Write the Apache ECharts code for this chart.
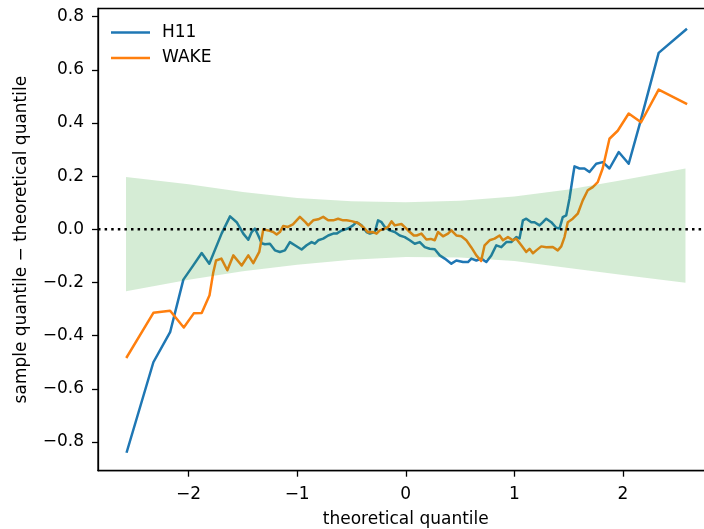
<!DOCTYPE html>
<html>
<head>
<meta charset="utf-8">
<script src="https://cdn.jsdelivr.net/npm/echarts@6/dist/echarts.min.js"></script>
<style>
  html, body { margin: 0; padding: 0; background: #ffffff; }
  #chart { width: 704px; height: 529px; }
</style>
</head>
<body>
<div id="chart"></div>
<script>
// Detrended Q-Q (worm) plot: sample quantile minus theoretical quantile.

// Axis limits and tick positions
const X_MIN = -2.834, X_MAX = 2.834;
const Y_MIN = -0.908, Y_MAX = 0.831;
const xTicks = [-2, -1, 0, 1, 2];
const yTicks = [-0.8, -0.6, -0.4, -0.2, 0.0, 0.2, 0.4, 0.6, 0.8];

// H11: theoretical quantile / deviation
const h11X = [-2.568, -2.324, -2.170, -2.048, -1.971, -1.879, -1.809, -1.695, -1.618, -1.557,
  -1.496, -1.450, -1.419, -1.389, -1.358, -1.327, -1.297, -1.251, -1.205, -1.159,
  -1.113, -1.067, -1.021, -0.959, -0.913, -0.867, -0.837, -0.806, -0.760, -0.714,
  -0.668, -0.637, -0.591, -0.531, -0.485, -0.453, -0.407, -0.361, -0.331, -0.285,
  -0.255, -0.223, -0.193, -0.147, -0.101, -0.055, -0.009, 0.037, 0.083, 0.129,
  0.175, 0.221, 0.267, 0.313, 0.359, 0.420, 0.466, 0.527, 0.573, 0.604,
  0.650, 0.696, 0.742, 0.788, 0.834, 0.880, 0.926, 0.972, 1.018, 1.048,
  1.079, 1.110, 1.156, 1.186, 1.232, 1.263, 1.294, 1.340, 1.386, 1.416,
  1.446, 1.478, 1.508, 1.538, 1.554, 1.600, 1.646, 1.692, 1.754, 1.814,
  1.876, 1.961, 2.053, 2.152, 2.329, 2.581];
const h11Y = [-0.836, -0.500, -0.387, -0.189, -0.144, -0.089, -0.129, -0.015, 0.049, 0.027,
  -0.016, -0.039, -0.010, 0.003, -0.023, -0.052, -0.056, -0.054, -0.079, -0.085,
  -0.079, -0.048, -0.060, -0.076, -0.060, -0.048, -0.054, -0.041, -0.035, -0.023,
  -0.016, -0.016, -0.004, 0.003, 0.015, 0.027, 0.015, -0.010, -0.016, -0.010,
  0.034, 0.027, 0.009, -0.004, -0.010, -0.023, -0.029, -0.041, -0.054, -0.048,
  -0.067, -0.073, -0.075, -0.098, -0.110, -0.129, -0.117, -0.123, -0.123, -0.110,
  -0.117, -0.110, -0.123, -0.098, -0.060, -0.067, -0.048, -0.048, -0.029, -0.034,
  0.034, 0.040, 0.027, 0.027, 0.015, 0.027, 0.040, 0.027, 0.006, 0.003,
  0.046, 0.053, 0.116, 0.197, 0.237, 0.229, 0.229, 0.216, 0.247, 0.253,
  0.229, 0.291, 0.247, 0.392, 0.664, 0.752];

// WAKE: theoretical quantile / deviation
const wakeX = [-2.568, -2.324, -2.170, -2.044, -1.952, -1.879, -1.807, -1.772, -1.747, -1.698,
  -1.643, -1.588, -1.511, -1.450, -1.404, -1.349, -1.312, -1.266, -1.220, -1.189,
  -1.159, -1.128, -1.085, -1.039, -0.975, -0.924, -0.898, -0.852, -0.806, -0.760,
  -0.714, -0.668, -0.623, -0.577, -0.545, -0.499, -0.439, -0.393, -0.347, -0.301,
  -0.269, -0.239, -0.193, -0.163, -0.131, -0.101, -0.040, 0.006, 0.037, 0.074,
  0.101, 0.144, 0.190, 0.230, 0.267, 0.297, 0.343, 0.389, 0.420, 0.466,
  0.512, 0.558, 0.604, 0.650, 0.694, 0.726, 0.772, 0.818, 0.864, 0.895,
  0.941, 0.987, 1.018, 1.064, 1.110, 1.140, 1.171, 1.202, 1.248, 1.294,
  1.354, 1.400, 1.432, 1.462, 1.492, 1.538, 1.584, 1.630, 1.676, 1.722,
  1.768, 1.814, 1.876, 1.952, 2.053, 2.167, 2.329, 2.581];
const wakeY = [-0.480, -0.314, -0.306, -0.369, -0.316, -0.315, -0.248, -0.161, -0.117, -0.110,
  -0.154, -0.098, -0.136, -0.098, -0.127, -0.085, 0.000, -0.004, -0.010, -0.019,
  -0.010, 0.013, 0.009, 0.019, 0.047, 0.027, 0.015, 0.034, 0.038, 0.047,
  0.034, 0.034, 0.040, 0.034, 0.034, 0.031, 0.024, 0.009, -0.011, -0.010,
  -0.016, -0.004, 0.003, 0.009, 0.030, 0.015, 0.020, 0.003, -0.010, -0.023,
  -0.023, -0.016, -0.038, -0.036, -0.041, -0.010, -0.026, -0.016, -0.004, -0.023,
  -0.026, -0.041, -0.068, -0.098, -0.119, -0.060, -0.041, -0.035, -0.023, -0.041,
  -0.029, -0.041, -0.035, -0.060, -0.085, -0.073, -0.090, -0.079, -0.064, -0.067,
  -0.066, -0.079, -0.064, -0.029, 0.027, 0.040, 0.059, 0.109, 0.147, 0.159,
  0.178, 0.230, 0.341, 0.371, 0.436, 0.403, 0.526, 0.473];

// Confidence band around zero
const bandX = [-2.576, -2.0, -1.5, -1.0, -0.5, 0.0, 0.5, 1.0, 1.5, 2.0, 2.576];
const bandUpper = [0.197, 0.170, 0.141, 0.118, 0.106, 0.102, 0.108, 0.124, 0.150, 0.186, 0.229];
const bandLower = [-0.233, -0.190, -0.158, -0.133, -0.114, -0.104, -0.106, -0.119, -0.145, -0.172, -0.201];

const zip = (xs, ys) => xs.map((x, i) => [x, ys[i]]);
const fmtMinus = s => s.replace('-', '\u2212');

const FONT = 'DejaVu Sans';
const FS = 17;
const LW = 2.5;

const chart = echarts.init(document.getElementById('chart'), null, { renderer: 'canvas' });

chart.setOption({
  animation: false,
  backgroundColor: '#ffffff',
  textStyle: { fontFamily: FONT },
  grid: {
    left: 98, top: 8.5, width: 615.5, height: 462.2,
    containLabel: false, outerBoundsMode: 'none',
    show: true, borderColor: '#000000', borderWidth: 1.3, backgroundColor: 'transparent'
  },
  legend: {
    orient: 'vertical', left: 111, top: 24, padding: 0,
    icon: 'rect', itemWidth: 39, itemHeight: 2.6, itemGap: 8.5,
    data: ['H11', 'WAKE'],
    textStyle: { fontFamily: FONT, fontSize: FS, lineHeight: 16, color: '#000000', padding: [0, 0, 0, 7] }
  },
  xAxis: {
    type: 'value', min: X_MIN, max: X_MAX,
    name: 'theoretical quantile', nameLocation: 'middle', nameGap: 40,
    nameTextStyle: { fontFamily: FONT, fontSize: FS, color: '#000000' },
    axisLine: { onZero: false, lineStyle: { color: '#000000', width: 1.3 } },
    axisTick: { customValues: xTicks, length: 6, lineStyle: { color: '#000000', width: 1.3 } },
    axisLabel: {
      customValues: xTicks, margin: 15, fontFamily: FONT, fontSize: FS, color: '#000000',
      formatter: v => fmtMinus(String(Math.round(v)))
    },
    splitLine: { show: false }
  },
  yAxis: {
    type: 'value', min: Y_MIN, max: Y_MAX,
    name: 'sample quantile \u2212 theoretical quantile', nameLocation: 'middle', nameGap: 68,
    nameTextStyle: { fontFamily: FONT, fontSize: FS, color: '#000000' },
    axisLine: { onZero: false, lineStyle: { color: '#000000', width: 1.3 } },
    axisTick: { customValues: yTicks, length: 6, lineStyle: { color: '#000000', width: 1.3 } },
    axisLabel: {
      customValues: yTicks, margin: 14, fontFamily: FONT, fontSize: FS, color: '#000000',
      formatter: v => fmtMinus(v.toFixed(1))
    },
    splitLine: { show: false }
  },
  series: [
    {
      name: 'H11', type: 'line', z: 2, symbol: 'none',
      data: zip(h11X, h11Y),
      lineStyle: { color: '#1f77b4', width: LW, join: 'round', cap: 'square' },
      itemStyle: { color: '#1f77b4' }
    },
    {
      name: 'WAKE', type: 'line', z: 2, symbol: 'none',
      data: zip(wakeX, wakeY),
      lineStyle: { color: '#ff7f0e', width: LW, join: 'round', cap: 'square' },
      itemStyle: { color: '#ff7f0e' }
    },
    {
      name: 'band', type: 'custom', z: 3, silent: true,
      data: [[0, 0]],
      renderItem: function (params, api) {
        const pts = [];
        for (let i = 0; i < bandX.length; i++) pts.push(api.coord([bandX[i], bandUpper[i]]));
        for (let i = bandX.length - 1; i >= 0; i--) pts.push(api.coord([bandX[i], bandLower[i]]));
        return { type: 'polygon', shape: { points: pts }, style: { fill: 'rgba(44,160,44,0.2)' } };
      }
    },
    {
      name: 'zero', type: 'line', z: 4, symbol: 'none', silent: true,
      data: [[X_MIN, 0], [X_MAX, 0]],
      lineStyle: { color: '#000000', width: LW, type: [2.5, 4.1], cap: 'butt' }
    }
  ]
});
</script>
</body>
</html>
